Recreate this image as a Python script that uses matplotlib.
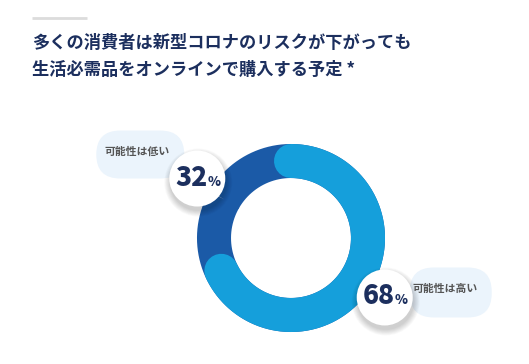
import numpy as np
import matplotlib
matplotlib.use("Agg")
import matplotlib.pyplot as plt
from matplotlib.patches import Circle, FancyBboxPatch

plt.rcParams['font.family'] = ['Noto Sans CJK JP', 'DejaVu Sans']

title_lines = ["多くの消費者は新型コロナのリスクが下がっても", "生活必需品をオンラインで購入する予定 *"]
labels = ["可能性は高い", "可能性は低い"]
values = [68, 32]
colors = ["#159fdb", "#1b5aa7"]

navy = "#1c2f5e"
cx, cy, r = 291, 238, 77          # ring centre / mid radius (px)
ring_w = 24.5                     # points
label_r = 111

fig = plt.figure(figsize=(5.29, 3.64), dpi=100)
ax = fig.add_axes([0, 0, 1, 1])
ax.set_xlim(0, 529)
ax.set_ylim(364, 0)
ax.set_aspect('equal')
ax.axis('off')

# header rule + title
ax.plot([32, 87], [18, 18], color="#dcdcdc", lw=2, solid_capstyle='butt')
for i, t in enumerate(title_lines):
    ax.text(32, 43 + i * 27, t, fontsize=12.4, fontweight='bold', color=navy,
            va='center', ha='left')

# donut: full ring in second colour, first slice on top with round caps
th = np.radians(np.linspace(150, 510, 400))
ax.plot(cx + r * np.cos(th), cy - r * np.sin(th), color=colors[1], lw=ring_w,
        solid_capstyle='butt')
total = sum(values)
start = 90.0
mids = []
for v, c in zip(values, colors):
    span = 360.0 * v / total
    a = np.radians(np.linspace(start, start - span, 300))
    mids.append(np.radians(start - span / 2))
    if c == colors[0]:
        ax.plot(cx + r * np.cos(a), cy - r * np.sin(a), color=c, lw=ring_w,
                solid_capstyle='round')
    start -= span

# labels: pill + white bubble with percent
for lab, v, m in zip(labels, values, mids):
    bx, by = cx + label_r * np.cos(m), cy - label_r * np.sin(m)
    if np.cos(m) > 0:
        px0, py0, pw, ph, tx, ty = bx + 25, by - 30, 82, 50, bx + 60, by - 9
    else:
        px0, py0, pw, ph, tx, ty = bx - 101, by - 48, 88, 48, bx - 60, by - 27
    pill = FancyBboxPatch((px0, py0), pw, ph,
                          boxstyle="round,pad=0,rounding_size=24",
                          fc="#ebf4fc", ec="none", zorder=2)
    ax.add_patch(pill)
    ax.text(tx, ty, lab, fontsize=7.8, fontweight='bold', color="#555555",
            ha='center', va='center', zorder=3)
    for k in range(8):
        ax.add_patch(Circle((bx + 1, by + 4), 28 + 6 - k * 0.8, fc="#000000",
                            ec='none', alpha=0.022, zorder=4))
    ax.add_patch(Circle((bx, by), 28, fc='white', ec='none', zorder=5))
    ax.text(bx + 10, by + 7, str(v), fontsize=19, fontweight='heavy', color=navy,
            ha='right', va='baseline', zorder=6)
    ax.text(bx + 10, by + 7, "%", fontsize=9.5, fontweight='heavy', color=navy,
            ha='left', va='baseline', zorder=6)

fig.savefig("out.png", dpi=100, facecolor='white')
